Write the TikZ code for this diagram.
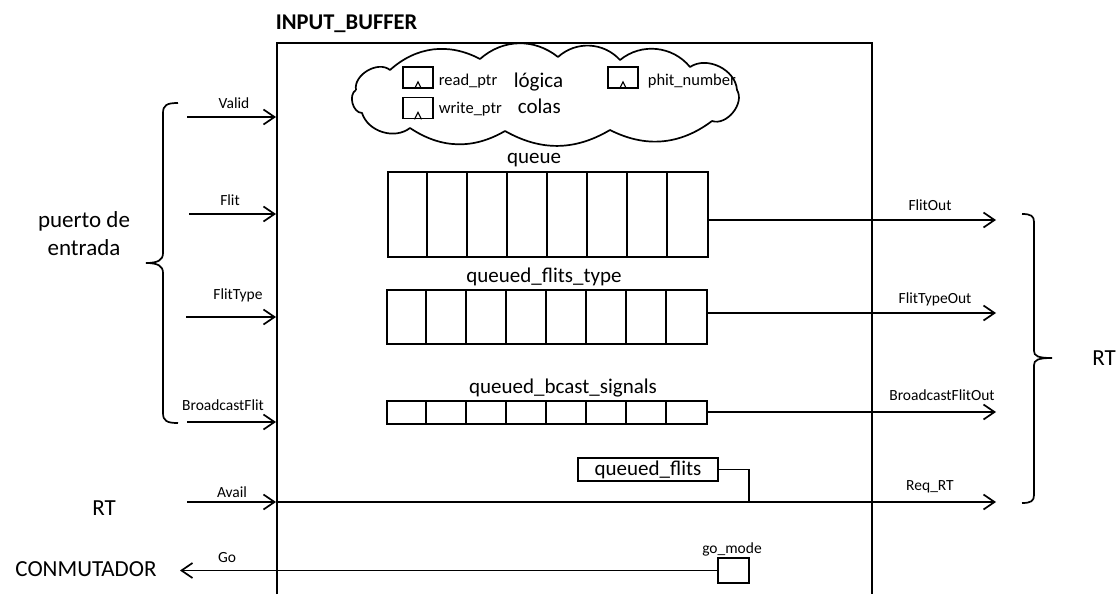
\documentclass[tikz,border=0pt]{standalone}
\usepackage{fontspec}
\setmainfont{Carlito}
\usetikzlibrary{arrows.meta,calc}
\begin{document}
\begin{tikzpicture}[x=1pt,y=-1pt,line width=1.7pt,
  sig/.style={font=\fontsize{15.5}{18}\selectfont,anchor=base,inner sep=0},
  mid/.style={font=\fontsize{21}{25}\selectfont,anchor=base,inner sep=0},
  big/.style={font=\fontsize{23}{28}\selectfont,anchor=base,inner sep=0},
  cl/.style={font=\fontsize{16.5}{19}\selectfont,anchor=base west,inner sep=0},
  arr/.style={-{Straight Barb[length=11pt,width=15pt]}},
  reg/.style={draw,minimum width=30pt,minimum height=21pt,inner sep=0},
  queuebox/.style={draw,anchor=north west,inner sep=0,minimum width=320pt},
  notch/.style={line width=1.1pt},
  puff/.style={bend left=#1}]
\useasboundingbox (0,0) rectangle (1118,594);
% main block
\draw (277,594) -- (277,43) -- (872,43) -- (872,594);
\node[font=\bfseries\fontsize{22.5}{27}\selectfont,anchor=base west,inner sep=0] (title) at (275,30) {INPUT\_BUFFER};
% cloud
\draw[line join=round] (356,90) to[puff=70] (390,70) to[puff=35] (480,59) to[puff=40] (558,57)
  to[puff=45] (620,60) to[puff=45] (690,67) to[puff=60] (737,90) to[puff=70] (712,121)
  to[puff=32] (610,130) to[puff=30] (505,131) to[puff=32] (410,128) to[puff=55] (362,113)
  to[puff=75] (356,90);
\node[reg] (rp) at (418,77.5) {};
\node[reg] (wp) at (418,108) {};
\node[reg] (pn) at (623,77.5) {};
\foreach \r in {rp,wp,pn}
  \draw[notch] ($(\r.south)+(-3.5,0)$) -- ($(\r.south)+(0,-7)$) -- ($(\r.south)+(3.5,0)$);
\node[cl] (rpt) at (438,85) {read\_ptr};
\node[cl] (wpt) at (438,113) {write\_ptr};
\node[cl] (pnt) at (647,85) {phit\_number};
\node[mid,anchor=base west] (log) at (513,87) {lógica};
\node[mid,anchor=base west] (col) at (517,113) {colas};
% queues
\node[queuebox,minimum height=85pt] (q1) at (387,171) {};
\node[queuebox,minimum height=54pt] (q2) at (386,289) {};
\node[queuebox,minimum height=23pt] (q3) at (386,400) {};
\foreach \q in {q1,q2,q3}
  \foreach \i in {1,...,7}
    \draw ($(\q.north west)+(40*\i,0)$) -- ($(\q.south west)+(40*\i,0)$);
\node[mid] (q1l) at (534,163) {queue};
\node[mid] (q2l) at (544,282) {queued\_flits\_type};
\node[mid] (q3l) at (563,393) {queued\_bcast\_signals};
% queued_flits, go_mode
\node[draw,minimum width=140pt,minimum height=23pt,inner sep=0,font=\fontsize{21}{25}\selectfont] (qf) at (648,469.5) {queued\_flits};
\node[draw,minimum width=31pt,minimum height=25pt,inner sep=0] (gm) at (733.5,570.5) {};
\node[sig] (gml) at (732,553) {go\_mode};
% input signals
\coordinate (vs) at (187,117); \coordinate (ve) at (276,117);
\coordinate (fs) at (189,214); \coordinate (fe) at (276,214);
\coordinate (ts) at (186,317); \coordinate (te) at (276,317);
\coordinate (bs) at (187,422); \coordinate (be) at (276,422);
\coordinate (as) at (187,502); \coordinate (ae) at (276,502);
\coordinate (go) at (180,570.5);
\draw[arr] (vs) -- (ve);
\draw[arr] (fs) -- (fe);
\draw[arr] (ts) -- (te);
\draw[arr] (bs) -- (be);
\draw[arr] (as) -- (ae);
\draw[arr] (gm.west) -- (go);
\node[sig] (vl) at (234,108) {Valid};
\node[sig] (fl) at (230,205) {Flit};
\node[sig] (tl) at (238,299) {FlitType};
\node[sig] (bl) at (223,410) {BroadcastFlit};
\node[sig] (al) at (232,497) {Avail};
\node[sig] (gl) at (227,562) {Go};
% output signals
\coordinate (fo) at (996,220);
\coordinate (to) at (996,313);
\coordinate (bo) at (996,412);
\coordinate (ro) at (996,502);
\coordinate (rs) at (277,502);
\coordinate (qj) at (749,502);
\draw[arr] (q1.east |- fo) -- (fo);
\draw[arr] (q2.east |- to) -- (to);
\draw[arr] (q3.east |- bo) -- (bo);
\draw[arr] (rs) -- (ro);
\draw (qf.east) -| (qj);
\node[sig] (fol) at (930,210) {FlitOut};
\node[sig] (tol) at (935,303) {FlitTypeOut};
\node[sig] (bol) at (942,400) {BroadcastFlitOut};
\node[sig] (rol) at (930,490) {Req\_RT};
% braces
\draw (178,103) .. controls (167,103) and (163,105) .. (163,113) -- (163,253) .. controls (163,260) and (158,263) .. (146,263) .. controls (158,263) and (163,266) .. (163,273) -- (163,413) .. controls (163,421) and (167,423) .. (178,423);
\draw (1022,214) .. controls (1031,214) and (1034,216) .. (1034,222) -- (1034,351) .. controls (1034,356) and (1038,358) .. (1052,358) .. controls (1038,358) and (1034,360) .. (1034,365) -- (1034,495) .. controls (1034,501) and (1031,503) .. (1022,503);
% side labels
\node[big,align=center] (pe) at (84,255) {puerto de\\entrada};
\node[big] (rtl) at (104,515) {RT};
\node[big] (con) at (86,576) {CONMUTADOR};
\node[big] (rtr) at (1104,365) {RT};
\end{tikzpicture}
\end{document}
